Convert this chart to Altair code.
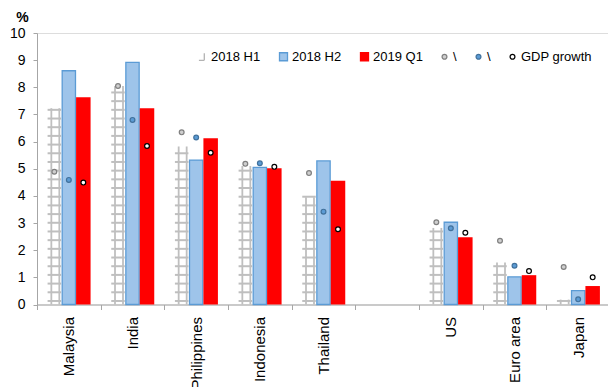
import altair as alt
import pandas as pd

# ---- data ----
categories = ["Malaysia", "India", "Philippines", "Indonesia", "Thailand", " ", "US", "Euro area", "Japan"]
countries = ["Malaysia", "India", "Philippines", "Indonesia", "Thailand", "US", "Euro area", "Japan"]
h1_2018 = [7.23, 8.05, 5.82, 5.10, 3.95, 2.82, 1.55, 0.18]
h2_2018 = [8.61, 8.92, 5.32, 5.05, 5.29, 3.03, 1.02, 0.51]
q1_2019 = [7.63, 7.23, 6.12, 5.02, 4.56, 2.48, 1.08, 0.68]
dot_gray = [4.89, 8.05, 6.34, 5.18, 4.84, 3.03, 2.35, 1.38]
dot_blue = [4.59, 6.80, 6.15, 5.20, 3.42, 2.81, 1.43, 0.19]
gdp_growth = [4.49, 5.84, 5.59, 5.07, 2.77, 2.64, 1.23, 1.00]

series_keys = ["2018 H1", "2018 H2", "2019 Q1", "dot_a", "dot_b", "GDP growth"]
y_ticks = [0, 1, 2, 3, 4, 5, 6, 7, 8, 9, 10]

# pattern spacing for the "ladder" fill of the 2018 H1 bars (style only)
RUNG_START, RUNG_STEP = 0.13, 0.32

def frame(vals, key):
    return pd.DataFrame({"country": countries, "value": vals, "series": key})

df_h1 = frame(h1_2018, "2018 H1")
df_h2 = frame(h2_2018, "2018 H2")
df_q1 = frame(q1_2019, "2019 Q1")
df_da = frame(dot_gray, "dot_a")
df_db = frame(dot_blue, "dot_b")
df_gdp = frame(gdp_growth, "GDP growth")

rung_rows = []
for c, v in zip(countries, h1_2018):
    lvl = RUNG_START
    while lvl <= v + 0.02:
        rung_rows.append({"country": c, "value": lvl})
        lvl += RUNG_STEP
df_rungs = pd.DataFrame(rung_rows)

# ---- styles ----
FONT = "Liberation Sans"
AX = "#a6a6a6"
BW = 14.5
OFF = [-14.5, 0.0, 14.5]

square = "M-1,-1H1V1H-1Z"
small_circle = "M0.6,0A0.6,0.6 0 1,1 -0.6,0A0.6,0.6 0 1,1 0.6,0Z"
ladder = "M0.45,-0.9V0.9M-0.9,0.9H0.45"

fill_range = ["transparent", "#9ec4ea", "#ff0000", "#cfcfcf", "#5b9bd5", "#ffffff"]
stroke_range = ["#b3b3b3", "#5b9bd5", "#ff0000", "#7f7f7f", "#41719c", "#000000"]
shape_range = [ladder, square, square, small_circle, small_circle, small_circle]

legend = alt.Legend(
    title=None, orient="none", legendX=159, legendY=17, direction="horizontal",
    labelFont=FONT, labelFontSize=13, labelColor="#000000", symbolSize=64,
    symbolStrokeWidth=1.3, columnPadding=15, labelOffset=2, padding=0,
    labelExpr="datum.label == 'dot_a' || datum.label == 'dot_b' ? '\\\\   ' : datum.label",
)

x_enc = alt.X(
    "country:N",
    scale=alt.Scale(domain=categories, range=[0, 573], paddingInner=0, paddingOuter=0),
    axis=alt.Axis(
        title=None, labelAngle=270, labelAlign="right", labelBaseline="middle",
        labelFontSize=15, labelFont=FONT, labelColor="#000000", tickSize=5,
        labelPadding=7, tickBand="extent", grid=False, domainColor=AX, tickColor=AX,
        labelOverlap=False, labelBound=False,
    ),
)
y_enc = alt.Y(
    "value:Q",
    scale=alt.Scale(domain=[0, 10], nice=False, zero=True),
    axis=alt.Axis(
        values=y_ticks, title="%", titleAngle=0, titleX=-15, titleY=-12,
        titleAlign="center", titleBaseline="alphabetic", titleFont=FONT,
        titleFontSize=14, titleFontWeight="bold", titleColor="#000000",
        labelFont=FONT, labelFontSize=14, labelColor="#000000", tickSize=4,
        labelPadding=8, grid=False, domainColor=AX, tickColor=AX,
    ),
)

# H1 ladder pattern: rungs + rails
rungs = alt.Chart(df_rungs).mark_tick(
    thickness=2, size=13.5, color="#bfbfbf", opacity=1, xOffset=OFF[0]
).encode(x=x_enc, y=y_enc)
rail_l = alt.Chart(df_h1).mark_bar(width=1.8, color="#bfbfbf", xOffset=OFF[0] - 3.0).encode(x=x_enc, y=y_enc)
rail_r = alt.Chart(df_h1).mark_bar(width=1.8, color="#bfbfbf", xOffset=OFF[0] + 5.0).encode(x=x_enc, y=y_enc)

bar_h2 = alt.Chart(df_h2).mark_bar(
    width=BW - 1.2, xOffset=OFF[1], color="#9ec4ea", stroke="#5b9bd5", strokeWidth=1.3
).encode(x=x_enc, y=y_enc)
bar_q1 = alt.Chart(df_q1).mark_bar(width=BW, xOffset=OFF[2], color="#ff0000").encode(x=x_enc, y=y_enc)

def dots(df, off):
    return alt.Chart(df).mark_point(
        size=64, strokeWidth=1.2, opacity=1, xOffset=off
    ).encode(
        x=x_enc, y=y_enc,
        fill=alt.Fill("series:N", scale=alt.Scale(domain=series_keys, range=fill_range), legend=legend),
        stroke=alt.Stroke("series:N", scale=alt.Scale(domain=series_keys, range=stroke_range), legend=legend),
        shape=alt.Shape("series:N", scale=alt.Scale(domain=series_keys, range=shape_range), legend=legend),
    )

chart = alt.layer(
    rungs, rail_l, rail_r, bar_h2, bar_q1,
    dots(df_da, OFF[0]), dots(df_db, OFF[1]), dots(df_gdp, OFF[2]),
).properties(
    width=571, height=271.5,
    autosize=alt.AutoSizeParams(type="none"),
    padding={"left": 37, "top": 33, "right": 0, "bottom": 82.5},
).configure_view(stroke=None).configure(background="white")

chart.save("out.html", embed_options={"renderer": "svg", "actions": False})
